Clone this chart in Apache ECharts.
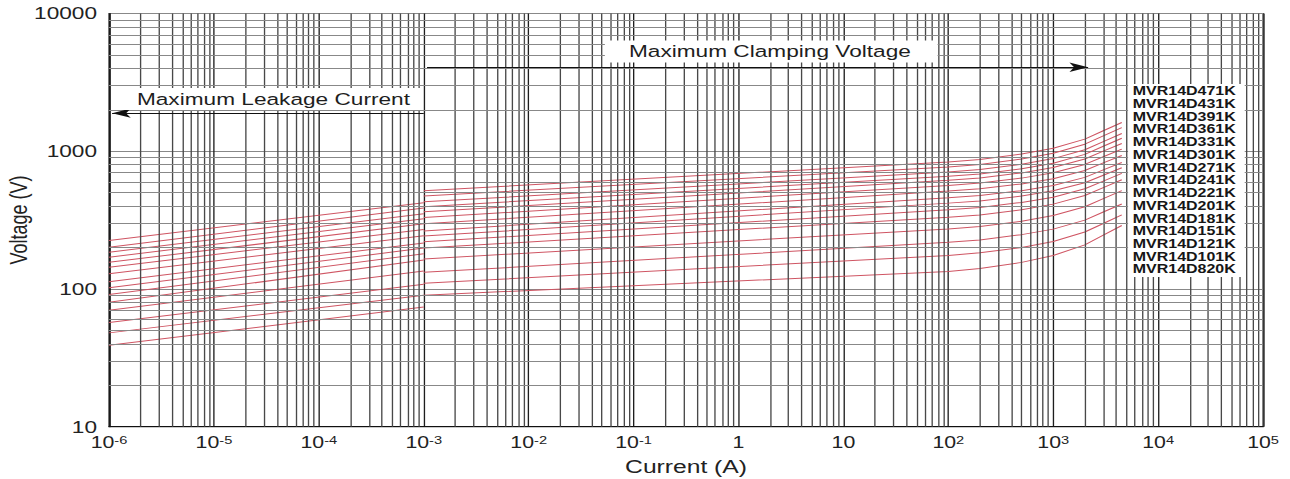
<!DOCTYPE html>
<html>
<head>
<meta charset="utf-8">
<title>MVR14D Series V-I Characteristics</title>
<script src="https://cdn.jsdelivr.net/npm/echarts@6/dist/echarts.min.js"></script>
<style>
  html, body { margin: 0; padding: 0; background: #fff; overflow: hidden; }
  #wrap { width: 1290px; height: 479px; overflow: hidden; }
  /* the sheet is laid out narrower and stretched horizontally */
  #chart { width: 968px; height: 479px; transform: scaleX(1.33264); transform-origin: 0 0; }
</style>
</head>
<body>
<div id="wrap"><div id="chart"></div></div>
<script>
// Part numbers, top to bottom
const partNames = [
  'MVR14D471K', 'MVR14D431K', 'MVR14D391K', 'MVR14D361K', 'MVR14D331K',
  'MVR14D301K', 'MVR14D271K', 'MVR14D241K', 'MVR14D221K', 'MVR14D201K',
  'MVR14D181K', 'MVR14D151K', 'MVR14D121K', 'MVR14D101K', 'MVR14D820K'
];

// Axis tick labels ("^" marks a superscript exponent)
const xTickLabels = ['10^-6', '10^-5', '10^-4', '10^-3', '10^-2', '10^-1', '1', '10', '10^2', '10^3', '10^4', '10^5'];
const yTickLabels = ['10', '100', '1000', '10000'];

// Maximum leakage current region (A) and voltages (V) per part
const leakCurrents = [1e-6, 1e-3];
const leakAt1uA = [225, 201, 185, 170, 156, 144, 129, 113, 102, 91, 80, 70, 57, 48, 39];
const leakAt1mA = [423, 387, 351, 324, 297, 270, 243, 216, 198, 180, 162, 135, 108, 90, 74];

// Maximum clamping voltage region (A) and voltages (V) per part
const clampCurrents = [1e-3, 100, 200, 500, 1000, 2000, 3000, 4500];
const clampAt1mA  = [517, 473, 429, 396, 363, 330, 297, 264, 242, 220, 198, 165, 132, 110, 90];
const clampAt100A = [836, 769, 707, 657, 615, 565, 514, 460, 420, 376, 332, 273, 218, 175, 134];
const clampAt200A = [872, 802, 736, 684, 639, 587, 534, 477, 436, 391, 345, 284, 227, 183, 141];
const clampAt500A = [954, 877, 804, 746, 696, 638, 579, 517, 473, 425, 376, 310, 248, 200, 156];
const clampAt1kA  = [1051, 966, 884, 819, 762, 697, 632, 564, 516, 464, 413, 341, 272, 221, 175];
const clampAt2kA  = [1224, 1125, 1025, 949, 878, 802, 725, 646, 591, 534, 477, 395, 316, 259, 209];
const clampAt3kA  = [1408, 1293, 1175, 1086, 1001, 912, 823, 732, 670, 607, 544, 453, 362, 299, 246];
const clampAt4500A = [1618, 1485, 1345, 1242, 1139, 1035, 932, 828, 759, 690, 621, 518, 414, 345, 289];

const clampColumns = [clampAt1mA, clampAt100A, clampAt200A, clampAt500A, clampAt1kA, clampAt2kA, clampAt3kA, clampAt4500A];

const FONT = 'Arial, "Liberation Sans", sans-serif';
const RED = '#cf5563';

// 2..9 x 10^e grid positions inside each decade
function decadeMinors(lo, hi) {
  const out = [];
  for (let e = lo; e < hi; e++) {
    for (let m = 2; m <= 9; m++) out.push(parseFloat(m + 'e' + e));
  }
  return out;
}
const xMinor = decadeMinors(-6, 5);
const yMinor = decadeMinors(1, 4);

function richTick(label) {
  const parts = label.split('^');
  return parts.length > 1 ? '{b|' + parts[0] + '}{s|' + parts[1] + '}' : '{b|' + parts[0] + '}';
}

const series = [];

// minor grid lines
series.push({
  type: 'line', name: 'grid', data: [], z: 1, silent: true,
  markLine: {
    silent: true, symbol: 'none', animation: false, precision: 12,
    label: { show: false },
    lineStyle: { type: 'solid', width: 1 },
    data: [
      ...xMinor.map(v => ({ xAxis: v, lineStyle: { color: '#484848', type: 'solid', width: 1 } })),
      ...yMinor.map(v => ({ yAxis: v, lineStyle: { color: '#888', type: 'solid', width: 1 } }))
    ]
  }
});

partNames.forEach((name, i) => {
  series.push({
    type: 'line', name: name, z: 3, symbol: 'none', silent: true, animation: false,
    lineStyle: { color: RED, width: 1 },
    data: leakCurrents.map((c, k) => [c, k === 0 ? leakAt1uA[i] : leakAt1mA[i]])
  });
  series.push({
    type: 'line', name: name, z: 3, symbol: 'none', silent: true, animation: false,
    lineStyle: { color: RED, width: 1 },
    data: clampCurrents.map((c, k) => [c, clampColumns[k][i]])
  });
});

// region arrows and their captions
const captionLabel = (text, pad) => ({
  show: true, position: 'inside', formatter: text,
  color: '#1e1e1e', fontSize: 17, fontFamily: FONT,
  backgroundColor: '#fff', padding: pad
});
series.push({
  type: 'line', name: 'notes', data: [], z: 5, silent: true,
  markLine: {
    silent: true, animation: false, precision: 12,
    symbolSize: [7, 14],
    label: { show: false },
    lineStyle: { color: '#111', type: 'solid', width: 1.2 },
    data: [
      [{ coord: [1.07e-6, 1890], symbol: 'arrow' }, { coord: [1e-3, 1890], symbol: 'none' }],
      [{ coord: [1.075e-3, 4070], symbol: 'none' }, { coord: [2150, 4070], symbol: 'arrow' }]
    ]
  },
  markPoint: {
    silent: true, animation: false, precision: 12,
    symbol: 'rect', symbolSize: 1,
    itemStyle: { color: 'rgba(0,0,0,0)' },
    data: [
      { coord: [3.19e-5, 2395], label: captionLabel('Maximum Leakage Current', [3, 9, 2, 19]) },
      { coord: [2.05, 5300], label: captionLabel('Maximum Clamping Voltage', [3, 20, 2, 18]) }
    ]
  }
});

const chart = echarts.init(document.getElementById('chart'), null, { renderer: 'svg' });
chart.setOption({
  animation: false,
  backgroundColor: '#fff',
  grid: {
    left: 81.8, right: 20.2, top: 13.5, bottom: 52.3,
    containLabel: false, outerBoundsMode: 'none',
    show: true, borderColor: '#333', borderWidth: 1, backgroundColor: '#fff'
  },
  xAxis: {
    type: 'log', logBase: 10, min: 1e-6, max: 1e5, interval: 1, splitNumber: 11,
    axisLine: { show: true, onZero: false, lineStyle: { color: '#111', width: 1 } },
    axisTick: { show: false },
    splitLine: { show: true, interval: 0, lineStyle: { color: '#1e1e1e', width: 1 } },
    axisLabel: {
      margin: 8, interval: 0, hideOverlap: false, showMinLabel: true, showMaxLabel: true,
      formatter: v => richTick(xTickLabels[Math.round(Math.log10(v)) + 6] || ''),
      rich: {
        b: { fontSize: 16, fontFamily: FONT, color: '#222', verticalAlign: 'top', lineHeight: 19 },
        s: { fontSize: 11, fontFamily: FONT, color: '#222', verticalAlign: 'top', lineHeight: 12 }
      }
    },
    name: 'Current (A)', nameLocation: 'middle', nameGap: 30, nameMoveOverlap: false,
    nameTextStyle: { fontSize: 18.5, fontFamily: FONT, color: '#222' }
  },
  yAxis: {
    type: 'log', logBase: 10, min: 10, max: 10000, interval: 1, splitNumber: 3,
    axisLine: { show: true, onZero: false, lineStyle: { color: '#111', width: 1 } },
    axisTick: { show: false },
    splitLine: { show: true, interval: 0, lineStyle: { color: '#888', width: 1 } },
    axisLabel: {
      margin: 9, interval: 0, hideOverlap: false, showMinLabel: true, showMaxLabel: true,
      fontSize: 17, fontFamily: FONT, color: '#222',
      formatter: v => yTickLabels[Math.round(Math.log10(v)) - 1] || ''
    },
    name: 'Voltage (V)', nameLocation: 'middle', nameGap: 59, nameMoveOverlap: false,
    nameTextStyle: { fontSize: 18, fontFamily: FONT, color: '#222' }
  },
  graphic: [
    { type: 'rect', left: 846.5, top: 84, z: 100, shape: { width: 87.5, height: 193 }, style: { fill: '#fff' } },
    {
      type: 'text', left: 850, top: 84.5, z: 101,
      style: { text: partNames.join('\n'), font: 'bold 12px ' + FONT, lineHeight: 12.74, fill: '#161616' }
    }
  ],
  series: series
});
</script>
</body>
</html>
